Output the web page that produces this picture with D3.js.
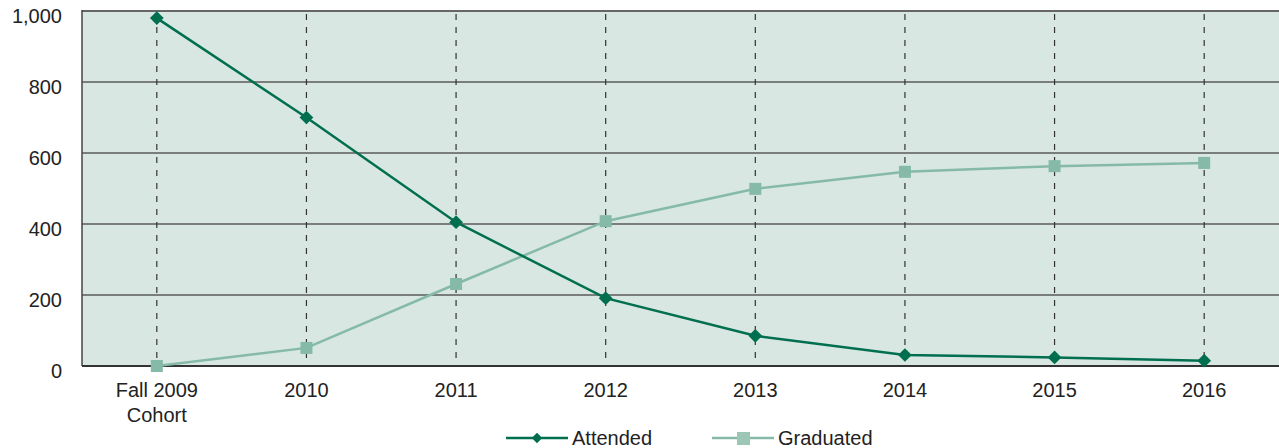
<!DOCTYPE html>
<html>
<head>
<meta charset="utf-8">
<script src="https://cdn.jsdelivr.net/npm/d3@7"></script>
<style>
  html, body { margin: 0; padding: 0; background: #fff; }
  svg { display: block; font-family: "Liberation Sans", Arial, Helvetica, sans-serif; }
</style>
</head>
<body>
<svg id="chart" width="1279" height="448"></svg>
<script>
// Cohort tracking: students still attending vs. cumulative graduates
const categories = ["Fall 2009|Cohort", "2010", "2011", "2012", "2013", "2014", "2015", "2016"];
const attended   = [980, 700, 405, 191, 85, 31, 24, 15];
const graduated  = [0, 51, 231, 408, 499, 547, 563, 572];
const yTicks     = [0, 200, 400, 600, 800, 1000];
const seriesNames = ["Attended", "Graduated"];

const W = 1279, H = 448;
const plot = { left: 82, top: 11, right: 1279, bottom: 366 };

const colAttended = "#006f4f";
const colGraduated = "#86baa8";
const bg = "#d8e7e1";
const fontSize = 20;

const svg = d3.select("#chart");

const x = d3.scalePoint()
  .domain(categories)
  .range([plot.left, plot.right])
  .padding(0.5);

const y = d3.scaleLinear()
  .domain([0, 1000])
  .range([plot.bottom, plot.top]);

// plot background
svg.append("rect")
  .attr("x", plot.left).attr("y", plot.top - 1)
  .attr("width", plot.right - plot.left)
  .attr("height", plot.bottom - plot.top + 1)
  .attr("fill", bg);

// horizontal grid lines
svg.append("g")
  .selectAll("line")
  .data(yTicks.filter(d => d > 0))
  .join("line")
  .attr("x1", plot.left).attr("x2", plot.right)
  .attr("y1", d => y(d)).attr("y2", d => y(d))
  .attr("stroke", d => d === 1000 ? "#666" : "#5a5a5a")
  .attr("stroke-width", d => d === 1000 ? 2 : 1.5);

// vertical dashed guides
svg.append("g")
  .selectAll("line")
  .data(categories)
  .join("line")
  .attr("x1", d => x(d)).attr("x2", d => x(d))
  .attr("y1", plot.top + 3).attr("y2", plot.bottom)
  .attr("stroke", "#333")
  .attr("stroke-width", 1.2)
  .attr("stroke-dasharray", "6,7");

// left and bottom axis lines
svg.append("line")
  .attr("x1", plot.left).attr("x2", plot.left)
  .attr("y1", plot.top - 1).attr("y2", plot.bottom)
  .attr("stroke", "#444").attr("stroke-width", 1.5);
svg.append("line")
  .attr("x1", plot.left).attr("x2", plot.right)
  .attr("y1", plot.bottom).attr("y2", plot.bottom)
  .attr("stroke", "#333").attr("stroke-width", 2);

// y tick labels
svg.append("g")
  .selectAll("text")
  .data(yTicks)
  .join("text")
  .attr("x", 62)
  .attr("y", d => y(d) + 5)
  .attr("dy", "0.35em")
  .attr("text-anchor", "end")
  .attr("font-size", fontSize)
  .attr("fill", "#222")
  .text(d => d3.format(",")(d));

// x tick labels (multi-line)
const xl = svg.append("g")
  .selectAll("text")
  .data(categories)
  .join("text")
  .attr("x", d => x(d))
  .attr("y", 397)
  .attr("text-anchor", "middle")
  .attr("font-size", fontSize)
  .attr("fill", "#222");
xl.each(function(d) {
  const parts = d.split("|");
  d3.select(this).selectAll("tspan")
    .data(parts)
    .join("tspan")
    .attr("x", x(d))
    .attr("dy", (p, i) => i === 0 ? 0 : 25)
    .text(p => p);
});

const line = d3.line()
  .x((d, i) => x(categories[i]))
  .y(d => y(d));

// Graduated series
svg.append("path")
  .datum(graduated)
  .attr("d", line)
  .attr("fill", "none")
  .attr("stroke", colGraduated)
  .attr("stroke-width", 2.5);
svg.append("g")
  .selectAll("rect")
  .data(graduated)
  .join("rect")
  .attr("x", (d, i) => x(categories[i]) - 6)
  .attr("y", d => y(d) - 6)
  .attr("width", 12).attr("height", 12)
  .attr("fill", colGraduated);

// Attended series
svg.append("path")
  .datum(attended)
  .attr("d", line)
  .attr("fill", "none")
  .attr("stroke", colAttended)
  .attr("stroke-width", 2.5);
const diamond = d3.symbol().type(d3.symbolDiamond2).size(120);
svg.append("g")
  .selectAll("path")
  .data(attended)
  .join("path")
  .attr("d", diamond)
  .attr("transform", (d, i) => `translate(${x(categories[i])},${y(d)})`)
  .attr("fill", colAttended);

// legend
const legend = svg.append("g");
const legY = 438;
const items = [
  { name: seriesNames[0], color: colAttended, x0: 506, kind: "diamond" },
  { name: seriesNames[1], color: colGraduated, x0: 712, kind: "square" }
];
items.forEach(it => {
  legend.append("line")
    .attr("x1", it.x0).attr("x2", it.x0 + 62)
    .attr("y1", legY).attr("y2", legY)
    .attr("stroke", it.color).attr("stroke-width", 2.5);
  if (it.kind === "diamond") {
    legend.append("path")
      .attr("d", d3.symbol().type(d3.symbolDiamond2).size(70))
      .attr("transform", `translate(${it.x0 + 31},${legY})`)
      .attr("fill", it.color);
  } else {
    legend.append("rect")
      .attr("x", it.x0 + 25).attr("y", legY - 6)
      .attr("width", 13).attr("height", 13)
      .attr("fill", "#9cc7b6");
  }
  legend.append("text")
    .attr("x", it.x0 + 66)
    .attr("y", legY)
    .attr("dy", "0.35em")
    .attr("font-size", fontSize)
    .attr("fill", "#222")
    .text(it.name);
});
</script>
</body>
</html>
